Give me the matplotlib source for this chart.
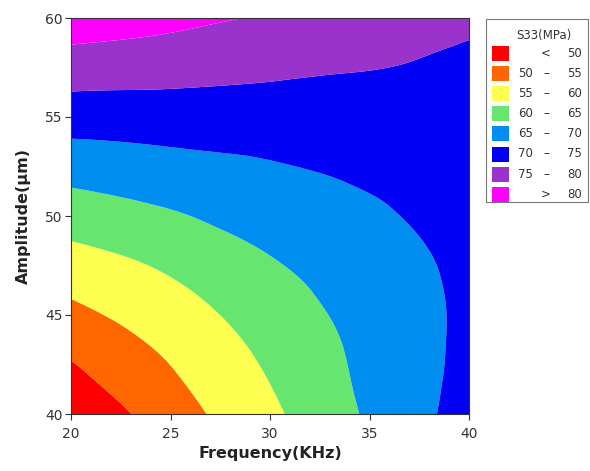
import numpy as np
import matplotlib
matplotlib.use("Agg")
import matplotlib.pyplot as plt
import matplotlib.tri as mtri
from matplotlib.patches import Rectangle

# grid
freq = [20, 22, 24, 26, 28, 30, 32, 34, 36, 38, 40]          # KHz
amp = [40, 42, 44, 46, 48, 50, 52, 54, 56, 58, 60]           # um
s33 = [
    [45.9, 48.7, 51.2, 53.85, 56.6, 59.0, 61.8, 64.4, 66.9, 69.5, 72.0],
    [48.9, 51.3, 53.3, 55.8, 58.0, 60.3, 62.6, 65.0, 67.1, 69.2, 71.5],
    [52.1, 53.9, 55.7, 57.7, 59.6, 61.6, 63.6, 65.5, 67.3, 69.2, 71.0],
    [55.3, 56.7, 58.1, 59.7, 61.4, 63.1, 64.8, 66.3, 67.8, 69.4, 70.9],
    [58.7, 59.7, 60.8, 62.2, 63.6, 65.0, 66.2, 67.3, 68.6, 69.9, 71.3],
    [62.3, 63.1, 64.0, 65.0, 66.1, 67.0, 68.0, 68.8, 69.7, 70.8, 71.8],
    [66.1, 66.7, 67.3, 67.9, 68.5, 69.1, 69.7, 70.3, 71.0, 71.8, 72.4],
    [70.2, 70.4, 70.7, 71.0, 71.2, 71.4, 71.8, 72.1, 72.5, 72.9, 73.1],
    [74.4, 74.3, 74.3, 74.2, 74.1, 74.0, 73.9, 73.9, 73.9, 73.9, 73.8],
    [78.6, 78.3, 78.0, 77.6, 77.1, 76.6, 76.15, 75.75, 75.4, 74.9, 74.45],
    [82.9, 82.3, 81.7, 80.9, 80.2, 79.5, 78.7, 78.0, 77.3, 76.6, 75.9],
]

levels = [30, 50, 55, 60, 65, 70, 75, 80, 100]
colors = ['#ff0000', '#ff6600', '#ffff50', '#66e66e', '#008ff0',
          '#0000f5', '#9933cc', '#ff00ff']
leg_lo = ['', '50', '55', '60', '65', '70', '75', '']
leg_mid = ['<', '\u2013', '\u2013', '\u2013', '\u2013', '\u2013', '\u2013', '>']
leg_hi = ['50', '55', '60', '65', '70', '75', '80', '80']

fig = plt.figure(figsize=(5.9, 4.71), dpi=100)
ax = fig.add_axes([71/590, 57/471, 398/590, 396/471])

F, A = np.meshgrid(freq, amp)
tri = mtri.Triangulation(F.ravel(), A.ravel())
z = np.array(s33).ravel()
interp = mtri.CubicTriInterpolator(tri, z, kind='min_E')
refiner = mtri.UniformTriRefiner(tri)
tri_f, z_f = refiner.refine_field(z, triinterpolator=interp, subdiv=3)
ax.tricontourf(tri_f, z_f, levels=levels, colors=colors, antialiased=True)

ax.set_xlim(20, 40)
ax.set_ylim(40, 60)
ax.set_xticks([20, 25, 30, 35, 40])
ax.set_yticks([40, 45, 50, 55, 60])
ax.tick_params(direction='out', length=4, width=0.8, labelsize=10,
               labelcolor='#333333', color='#333333', pad=2)
ax.tick_params(axis='x', pad=5)
for s in ax.spines.values():
    s.set_linewidth(0.8)
    s.set_color('#333333')
ax.set_xlabel('Frequency(KHz)', fontsize=11.5, fontweight='bold', color='#222222', labelpad=4)
ax.set_ylabel('Amplitude(\u03bcm)', fontsize=11.5, fontweight='bold', color='#222222', labelpad=10)

# legend box
W, H = 590, 471
def fx(px):
    return px / W
def fy(py):
    return 1 - py / H

fig.patches.append(Rectangle((fx(486), fy(202)), fx(588) - fx(486), (202 - 19) / H,
                             transform=fig.transFigure, fill=False,
                             edgecolor='#777777', linewidth=0.8))
fig.text(fx(544), fy(36), 'S33(MPa)', fontsize=8.5, color='#333333',
         ha='center', va='center')
for i, c in enumerate(colors):
    yc = 53.5 + i * 20.1
    fig.patches.append(Rectangle((fx(492), fy(yc + 7.5)), fx(509) - fx(492), 15 / H,
                                 transform=fig.transFigure, facecolor=c,
                                 edgecolor='none'))
    kw = dict(fontsize=8.5, color='#333333', va='center')
    if leg_lo[i]:
        fig.text(fx(533), fy(yc), leg_lo[i], ha='right', **kw)
    fig.text(fx(546), fy(yc), leg_mid[i], ha='center', **kw)
    fig.text(fx(582), fy(yc), leg_hi[i], ha='right', **kw)

fig.savefig('out.png', dpi=100)
